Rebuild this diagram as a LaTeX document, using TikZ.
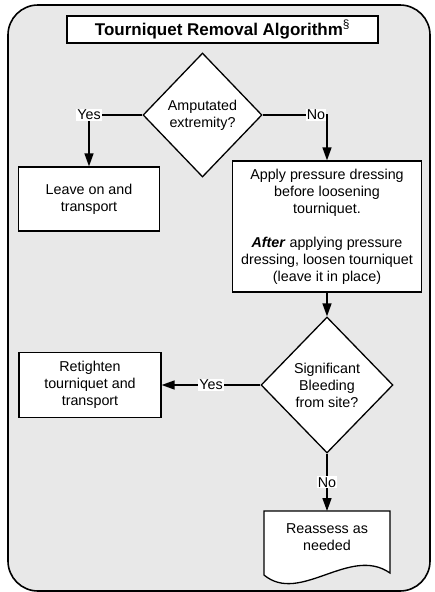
\documentclass[tikz,border=0pt]{standalone}
\usepackage{fontspec}
\setmainfont{Liberation Sans}
\usetikzlibrary{shapes.geometric,arrows.meta}
\definecolor{panelgray}{HTML}{E8E8E8}
\newcommand\flowfont{\fontsize{14.3}{17}\selectfont}

\begin{document}
\begin{tikzpicture}[x=1pt,y=-1pt,
    box/.style={draw,fill=white,line width=1.3pt,align=center,font=\flowfont,inner sep=0pt},
    decide/.style={diamond,draw,fill=white,line width=1.3pt,align=center,font=\flowfont,inner sep=0pt},
    lbl/.style={fill=white,inner sep=1pt,font=\flowfont},
    link/.style={line width=1.5pt,-{Triangle[length=13pt,width=9pt]}}]
    \useasboundingbox (0,0) rectangle (434,592);
    % panel
    \draw[line width=1.6pt,fill=panelgray,rounded corners=30pt] (8,5) rectangle (430,591);
    % title
    \node[box,line width=2.6pt,minimum width=311pt,minimum height=27pt,
      font=\fontsize{17}{20}\selectfont\bfseries] (title) at (222.5,29.5)
      {Tourniquet Removal Algorithm\textsuperscript{\mdseries\S}};
    % first decision
    \node[decide,minimum width=119pt,minimum height=124pt] (amp) at (202.5,115)
      {Amputated\\extremity?};
    \node[box,minimum width=141pt,minimum height=64pt] (leave) at (89,199)
      {Leave on and\\transport};
    \node[box,minimum width=189pt,minimum height=131pt] (apply) at (327,226.5)
      {Apply pressure dressing\\before loosening\\tourniquet.\\[17pt]
       \textbf{\textit{After}} applying pressure\\dressing, loosen tourniquet\\(leave it in place)};
    % second decision
    \node[decide,minimum width=132pt,minimum height=136pt] (bleed) at (327,385)
      {Significant\\Bleeding\\from site?};
    \node[box,minimum width=142pt,minimum height=65pt] (retighten) at (90,385)
      {Retighten\\tourniquet and\\transport};
    % document shape
    \draw[line width=1.3pt,fill=white] (264,511) -- (390,511) -- (390,573)
      .. controls (350,545) and (300,605) .. (264,575) -- cycle;
    \node[align=center,font=\flowfont,anchor=north,minimum width=126pt,
      inner xsep=0pt,inner ysep=12.8pt] (reassess) at (327,511) {Reassess as\\needed};
    % connectors
    \draw[link] (amp.west) -- (amp.west -| leave.north) node[lbl]{Yes} -- (leave.north);
    \draw[link] (amp.east) -- (amp.east -| apply.north) node[lbl,pos=0.83]{No} -- (apply.north);
    \draw[link] (apply.south) -- (bleed.north);
    \draw[link] (bleed.west) -- (retighten.east) node[lbl,midway]{Yes};
    \draw[link] (bleed.south) -- (reassess.north) node[lbl,midway]{No};
\end{tikzpicture}
\end{document}
